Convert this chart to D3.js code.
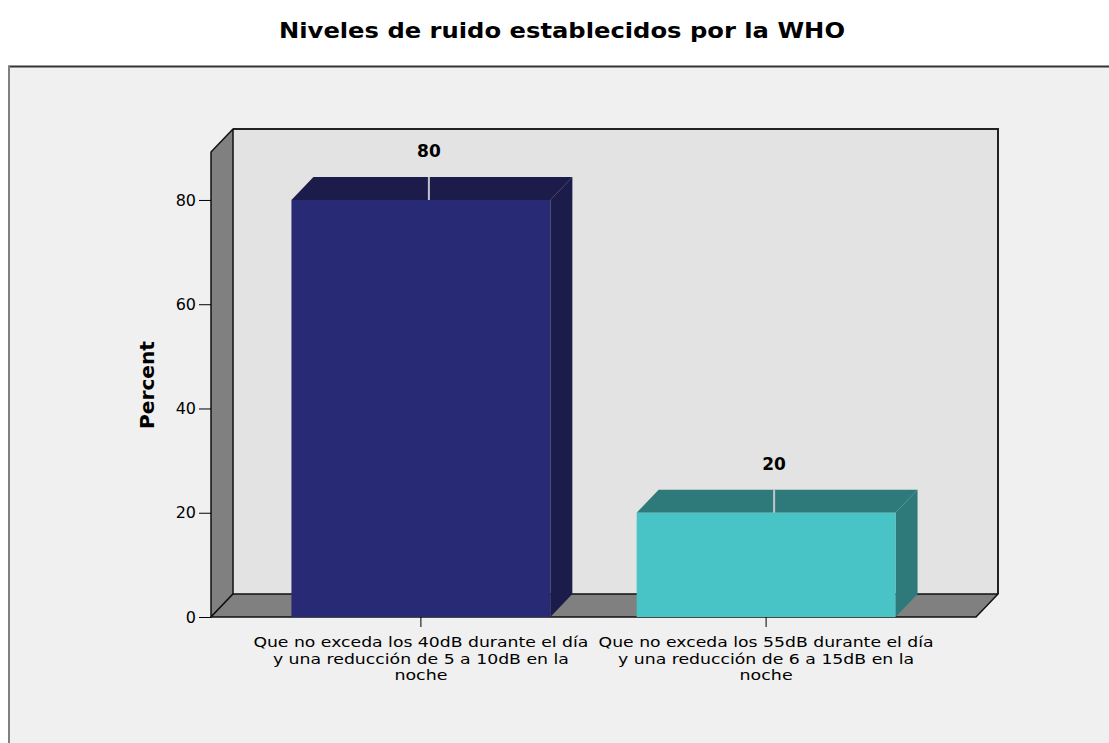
<!DOCTYPE html>
<html><head><meta charset="utf-8">
<script src="https://cdn.jsdelivr.net/npm/d3@7"></script>
<style>body{margin:0;background:#fff}svg{display:block}text{font-family:"DejaVu Sans",Verdana,sans-serif}</style>
</head><body><svg id="c" width="1109" height="743"></svg>
<script>
const title = "Niveles de ruido establecidos por la WHO";
const categories = [
  ["Que no exceda los 40dB durante el día", "y una reducción de 5 a 10dB en la", "noche"],
  ["Que no exceda los 55dB durante el día", "y una reducción de 6 a 15dB en la", "noche"]
];
const values = [80, 20];
const valueLabels = ["80", "20"];
const yTicks = [0, 20, 40, 60, 80];
const yLabel = "Percent";
const frontColors = ["#282a75", "#48c3c6"];
const sideColors = ["#1c1c4b", "#2e7a7a"];

const svg = d3.select("#c");
const W = 1109, H = 743;
// outer frame
svg.append("rect").attr("x", 8).attr("y", 66).attr("width", W).attr("height", H).attr("fill", "#f0f0f0");
svg.append("line").attr("x1", 8).attr("x2", W).attr("y1", 66.5).attr("y2", 66.5).attr("stroke", "#333").attr("stroke-width", 2);
svg.append("line").attr("x1", 9).attr("x2", 9).attr("y1", 66).attr("y2", H).attr("stroke", "#808080").attr("stroke-width", 2);

svg.append("text").attr("x", 562).attr("y", 38).attr("text-anchor", "middle")
  .attr("font-size", 21).attr("font-weight", "bold").attr("fill", "#000")
  .attr("textLength", 566).attr("lengthAdjust", "spacingAndGlyphs").text(title);

const x0 = 211, x1 = 976, dx = 22, dy = -23;
const y = d3.scaleLinear().domain([0, 89.2]).range([617, 152]);
const x = d3.scaleBand().domain(d3.range(categories.length)).range([x0, x1]).paddingInner(0.25).paddingOuter(0.233);

const yTop = y.range()[1], yBot = y.range()[0];
// back wall
svg.append("rect").attr("x", x0 + dx).attr("y", yTop + dy).attr("width", x1 - x0).attr("height", yBot - yTop).attr("fill", "#e3e3e3");
svg.append("path").attr("d", `M${x0+dx},${yTop+dy}H${x1+dx}V${yBot+dy}`).attr("fill", "none").attr("stroke", "#222").attr("stroke-width", 2);
// side wall
svg.append("path").attr("d", `M${x0},${yBot}V${yTop}L${x0+dx},${yTop+dy}V${yBot+dy}Z`)
  .attr("fill", "#808080").attr("stroke", "#111").attr("stroke-width", 1.5).attr("stroke-linejoin", "round");
// floor
svg.append("path").attr("d", `M${x0},${yBot}H${x1}L${x1+dx},${yBot+dy}H${x0+dx}Z`)
  .attr("fill", "#808080").attr("stroke", "#111").attr("stroke-width", 1.5).attr("stroke-linejoin", "round");

// bars
values.forEach((v, i) => {
  const bx = x(i), bw = x.bandwidth(), by = y(v);
  const g = svg.append("g");
  g.append("path").attr("d", `M${bx+bw},${by}L${bx+bw+dx},${by+dy}V${yBot+dy}L${bx+bw},${yBot}Z`).attr("fill", sideColors[i]);
  g.append("path").attr("d", `M${bx},${by}L${bx+dx},${by+dy}H${bx+bw+dx}L${bx+bw},${by}Z`).attr("fill", sideColors[i]);
  g.append("rect").attr("x", bx).attr("y", by).attr("width", bw).attr("height", yBot - by).attr("fill", frontColors[i]);
  const lx = bx + bw / 2 + dx / 2 - 3;
  g.append("line").attr("x1", lx).attr("x2", lx).attr("y1", by + dy).attr("y2", by).attr("stroke", "#c4c4cc").attr("stroke-width", 2);
  g.append("text").attr("x", lx).attr("y", by + dy - 20).attr("text-anchor", "middle")
    .attr("font-size", 17).attr("font-weight", "bold").attr("fill", "#000").text(valueLabels[i]);
});

// y axis
const ya = svg.append("g").attr("transform", `translate(${x0},0)`)
  .call(d3.axisLeft(y).tickValues(yTicks).tickSize(12).tickPadding(3).tickFormat(d3.format("d")));
ya.select(".domain").remove();
ya.selectAll("line").attr("stroke", "#000");
ya.selectAll("text").attr("font-size", 16).attr("font-family", "DejaVu Sans, Verdana, sans-serif").attr("fill", "#000");

svg.append("text").attr("transform", `translate(154,385) rotate(-90)`).attr("text-anchor", "middle")
  .attr("font-size", 19).attr("font-weight", "bold").attr("fill", "#000")
  .attr("textLength", 88).attr("lengthAdjust", "spacingAndGlyphs").text(yLabel);

// x axis
const xa = svg.append("g").attr("transform", `translate(0,${yBot})`)
  .call(d3.axisBottom(x).tickSize(10).tickFormat(() => ""));
xa.select(".domain").remove();
xa.selectAll("line").attr("stroke", "#000");
const lineWidths = [335, 296, 53];
categories.forEach((lines, i) => {
  const cx = x(i) + x.bandwidth() / 2;
  lines.forEach((l, j) => svg.append("text").attr("text-anchor", "middle").attr("font-size", 14).attr("fill", "#000")
    .attr("x", cx).attr("y", 647 + j * 16.5)
    .attr("textLength", lineWidths[j]).attr("lengthAdjust", "spacingAndGlyphs").text(l));
});
</script></body></html>
